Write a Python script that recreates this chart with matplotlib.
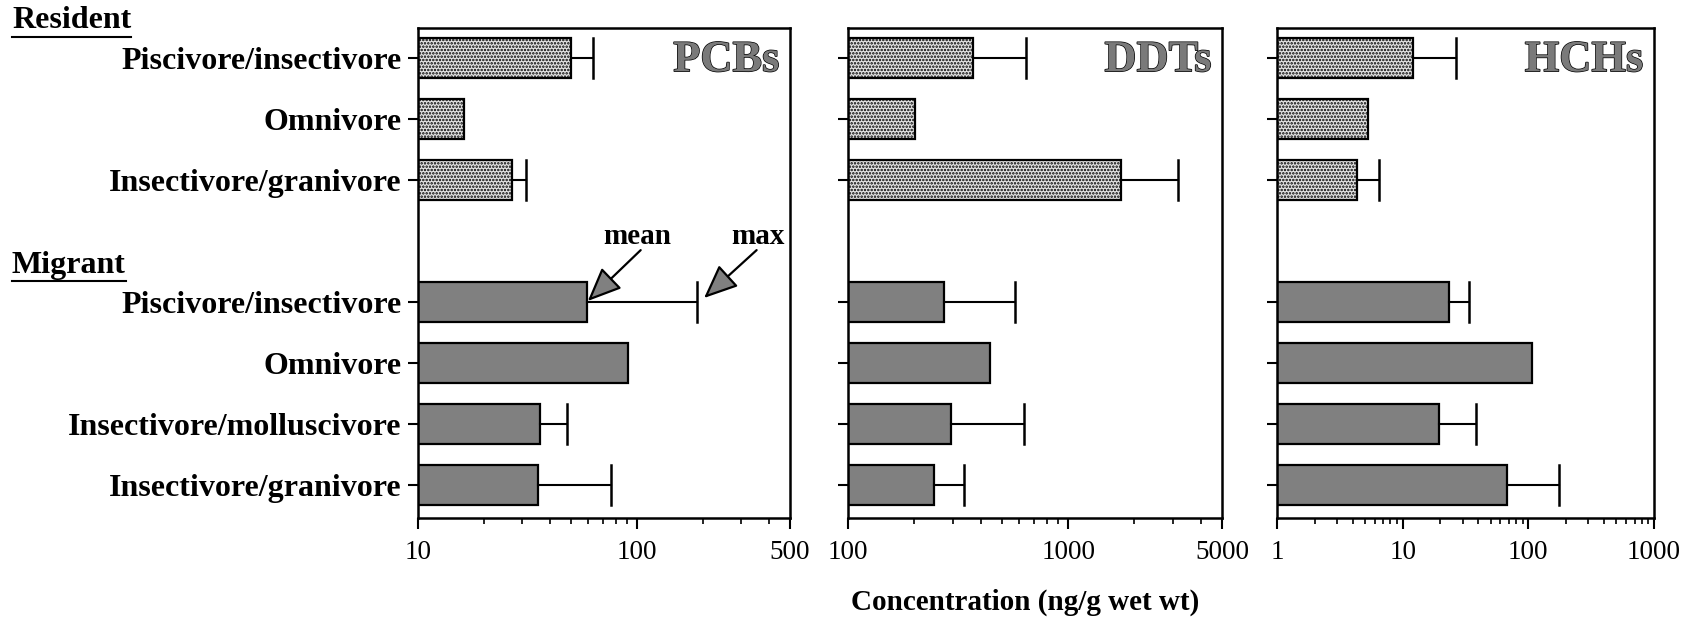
import numpy as np
import matplotlib
matplotlib.use("Agg")
import matplotlib.pyplot as plt
import matplotlib.patheffects as pe
from matplotlib.lines import Line2D

plt.rcParams["font.family"] = "serif"
plt.rcParams["font.serif"] = ["Liberation Serif", "DejaVu Serif"]
plt.rcParams["hatch.linewidth"] = 1.2

# Feeding guilds
resident_labels = ["Piscivore/insectivore", "Omnivore", "Insectivore/granivore"]
migrant_labels = ["Piscivore/insectivore", "Omnivore", "Insectivore/molluscivore",
                  "Insectivore/granivore"]

# mean and max concentrations (ng/g wet wt)
pcb_mean_res = [50, 16.2, 27]
pcb_max_res = [63, np.nan, 31]
pcb_mean_mig = [59, 91, 36, 35.5]
pcb_max_mig = [189, np.nan, 48, 76]

ddt_mean_res = [370, 201, 1740]
ddt_max_res = [645, np.nan, 3150]
ddt_mean_mig = [273, 442, 294, 246]
ddt_max_mig = [574, np.nan, 630, 336]

hch_mean_res = [12.1, 5.3, 4.3]
hch_max_res = [26.5, np.nan, 6.5]
hch_mean_mig = [23.4, 107, 19.5, 67.6]
hch_max_mig = [33.7, np.nan, 38.3, 175]

panels = [
    ("PCBs", (10, 500), [10, 100, 500],
     pcb_mean_res, pcb_max_res, pcb_mean_mig, pcb_max_mig),
    ("DDTs", (100, 5000), [100, 1000, 5000],
     ddt_mean_res, ddt_max_res, ddt_mean_mig, ddt_max_mig),
    ("HCHs", (1, 1000), [1, 10, 100, 1000],
     hch_mean_res, hch_max_res, hch_mean_mig, hch_max_mig),
]

y_res = np.arange(len(resident_labels))
y_mig = np.arange(len(migrant_labels)) + len(resident_labels) + 1
bar_h = 0.66

fig = plt.figure(figsize=(16.82, 6.2), dpi=100)
lefts = [418, 848, 1277]
widths = [372, 374, 377]

axes = []
for i, (name, xlim, xticks, m_res, x_res, m_mig, x_mig) in enumerate(panels):
    ax = fig.add_axes([lefts[i] / 1682, 102 / 620, widths[i] / 1682, 490 / 620])
    axes.append(ax)
    ax.set_xscale("log")
    ax.set_xlim(*xlim)
    ax.set_ylim(7.54, -0.49)

    ax.barh(y_res, np.array(m_res) - xlim[0], left=xlim[0], height=bar_h,
            facecolor="#e4e4e4", edgecolor="black", hatch=".....", linewidth=1.6)
    ax.barh(y_mig, np.array(m_mig) - xlim[0], left=xlim[0], height=bar_h,
            facecolor="#808080", edgecolor="black", linewidth=1.6)

    # one-sided bars up to the maximum
    for ys, ms, xs in [(y_res, m_res, x_res), (y_mig, m_mig, x_mig)]:
        for y, m, mx in zip(ys, ms, xs):
            if np.isnan(mx):
                continue
            ax.plot([m, mx], [y, y], color="black", lw=1.5)
            ax.plot([mx, mx], [y - bar_h / 2, y + bar_h / 2], color="black", lw=1.8)

    ax.set_xticks(xticks)
    ax.set_xticklabels([str(t) for t in xticks], fontsize=19.5)
    ax.xaxis.set_minor_formatter(matplotlib.ticker.NullFormatter())
    ax.tick_params(axis="x", which="major", direction="out", length=8, width=1.5, pad=8)
    ax.tick_params(axis="x", which="minor", direction="out", length=4, width=1.2)
    ax.set_yticks(np.concatenate([y_res, y_mig]))
    if i == 0:
        ax.set_yticklabels(resident_labels + migrant_labels, fontsize=23,
                           fontweight="bold")
    else:
        ax.set_yticklabels([])
    ax.tick_params(axis="y", direction="out", length=7, width=1.5, pad=5)
    for sp in ax.spines.values():
        sp.set_linewidth(1.8)

    ax.text(0.972, 0.975, name, transform=ax.transAxes, ha="right", va="top",
            fontsize=32, fontweight="bold", color="#7a7a7a",
            path_effects=[pe.Stroke(linewidth=1.0, foreground="black"), pe.Normal()])

# mean / max annotation
ax0 = axes[0]
arrow = dict(arrowstyle="-|>,head_length=1.4,head_width=0.6", fc="#808080",
             ec="black", lw=1.6, mutation_scale=15, shrinkA=0, shrinkB=1)
ax0.annotate("", xy=(pcb_mean_mig[0], y_mig[0]), xytext=(104, 3.15), arrowprops=arrow)
ax0.annotate("", xy=(pcb_max_mig[0] * 1.06, y_mig[0] - 0.05), xytext=(352, 3.15),
             arrowprops=arrow)
ax0.text(100, 2.92, "mean", ha="center", va="center", fontsize=21, fontweight="bold")
ax0.text(357, 2.92, "max", ha="center", va="center", fontsize=21, fontweight="bold")

fig.text(1025 / 1682, 1 - 602 / 620, "Concentration (ng/g wet wt)", ha="center",
         va="center", fontsize=21, fontweight="bold")

# underlined group headers
renderer = fig.canvas.get_renderer()
for label, ypx in [("Resident", 21), ("Migrant", 265)]:
    t = fig.text(12 / 1682, 1 - ypx / 620, label, ha="left", va="center",
                 fontsize=23, fontweight="bold")
    bb = t.get_window_extent(renderer)
    x0, x1 = bb.x0 / fig.bbox.width, bb.x1 / fig.bbox.width
    yl = (bb.y0 - 1) / fig.bbox.height
    fig.add_artist(Line2D([x0, x1], [yl, yl], transform=fig.transFigure,
                          color="black", lw=1.5))

fig.savefig("out.png", dpi=100)
